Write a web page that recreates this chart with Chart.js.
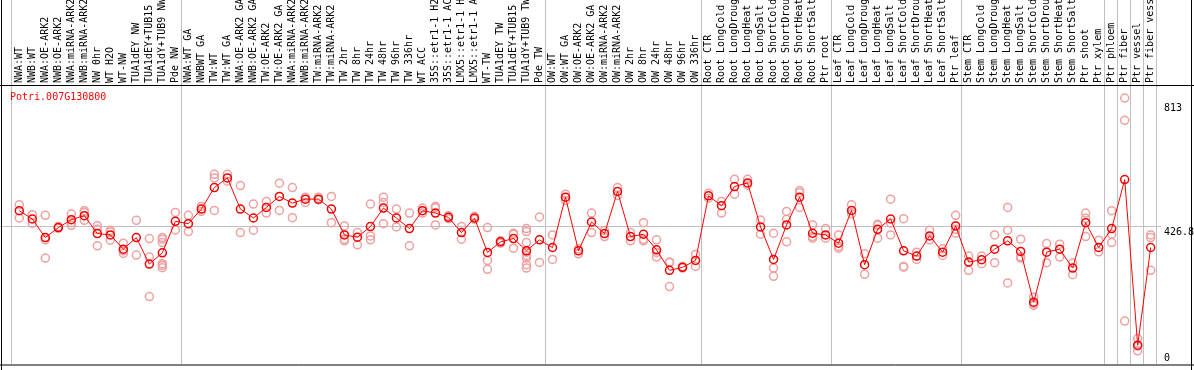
<!DOCTYPE html>
<html>
<head>
<meta charset="utf-8">
<script src="https://cdn.jsdelivr.net/npm/chart.js@4"></script>
<style>
  body { margin: 0; background: #fff; }
  #wrap { width: 1194px; height: 370px; }
</style>
</head>
<body>
<div id="wrap"><canvas id="chart" width="1194" height="370"></canvas></div>
<script>
// gene shown in the plot
const geneId = "Potri.007G130800";

// sample names (x axis, top)
const samples = [
  "NWA:WT", "NWB:WT", "NWA:OE-ARK2", "NWB:OE-ARK2", "NWA:miRNA-ARK2", "NWB:miRNA-ARK2",
  "NW 0hr", "WT H2O", "WT-NW", "TUA1dEY NW", "TUA1dEY+TUB15 NW", "TUA1dY+TUB9 NW", "Pde NW",
  "NWA:WT GA", "NWBWT GA", "TW:WT", "TW:WT GA", "NWA:OE-ARK2 GA", "NWB:OE-ARK2 GA",
  "TW:OE-ARK2", "TW:OE-ARK2 GA", "NWA:miRNA-ARK2", "NWB:miRNA-ARK2", "TW:miRNA-ARK2",
  "TW:miRNA-ARK2", "TW 2hr", "TW 8hr", "TW 24hr", "TW 48hr", "TW 96hr", "TW 336hr",
  "WT ACC", "35S::etr1-1 H2O", "35S::etr1-1 ACC", "LMX5::etr1-1 H2O", "LMX5::etr1-1 ACC",
  "WT-TW", "TUA1dEY TW", "TUA1dEY+TUB15 TW", "TUA1dY+TUB9 TW", "Pde TW",
  "OW:WT", "OW:WT GA", "OW:OE-ARK2", "OW:OE-ARK2 GA", "OW:miRNA-ARK2", "OW:miRNA-ARK2",
  "OW 2hr", "OW 8hr", "OW 24hr", "OW 48hr", "OW 96hr", "OW 336hr",
  "Root CTR", "Root LongCold", "Root LongDrought", "Root LongHeat", "Root LongSalt",
  "Root ShortCold", "Root ShortDrought", "Root ShortHeat", "Root ShortSalt", "Ptr root",
  "Leaf CTR", "Leaf LongCold", "Leaf LongDrought", "Leaf LongHeat", "Leaf LongSalt",
  "Leaf ShortCold", "Leaf ShortDrought", "Leaf ShortHeat", "Leaf ShortSalt", "Ptr leaf",
  "Stem CTR", "Stem LongCold", "Stem LongDrought", "Stem LongHeat", "Stem LongSalt",
  "Stem ShortCold", "Stem ShortDrought", "Stem ShortHeat", "Stem ShortSalt",
  "Ptr shoot", "Ptr xylem", "Ptr phloem", "Ptr fiber", "Ptr vessel", "Ptr fiber vessel"
];

// mean expression per sample
const means = [
  473, 448, 392, 422, 446, 458, 404, 400, 357, 392, 312, 346, 441,
  434, 478, 543, 572, 478, 451, 483, 516, 496, 508, 508, 478, 400, 393, 425, 481, 451, 419,
  473, 466, 453, 407, 451, 347, 379, 389, 352, 385, 362,
  514, 352, 439, 404, 531, 395, 402, 355, 293, 302, 323,
  518, 488, 546, 557, 424, 326, 430, 514, 405, 400,
  375, 474, 310, 417, 448, 352, 336, 397, 348, 427,
  318, 325, 357, 382, 350, 197, 348, 357, 300,
  437, 362, 419, 567, 67, 362
];

// individual replicates per sample
const replicates = [
  [491, 451], [461, 435], [459, 385, 330], [425, 420], [463, 437, 429], [473, 468, 444],
  [428, 417, 367], [414, 409, 384], [375, 352, 344], [444, 339], [389, 333, 214],
  [392, 387, 377, 313, 308, 301], [468, 415],
  [459, 410], [486, 471], [583, 572, 474], [583, 562], [549, 407], [493, 414], [501, 466],
  [556, 474], [543, 452], [514, 498], [514, 506], [516, 437], [427, 387, 382], [407, 370],
  [493, 397, 385], [514, 498, 434], [478, 424], [466, 367], [481, 466], [486, 482, 430],
  [458, 449], [425, 387], [456, 447], [422, 323, 296], [382, 375], [405, 402, 360],
  [419, 410, 377, 348, 338, 330, 310, 300], [454, 317],
  [400, 326], [523, 504], [358, 343], [466, 407], [413, 395], [543, 519], [407, 382],
  [437, 387, 382], [385, 347, 333], [318, 317, 244], [305, 300], [341, 305],
  [526, 511], [501, 466], [568, 523], [568, 551], [445, 402], [405, 300, 275],
  [471, 447, 379], [534, 528, 483], [430, 395, 390], [419, 390],
  [400, 365, 360], [491, 464], [343, 281], [432, 429, 390], [508, 436, 400],
  [449, 305, 303], [348, 326], [414, 385], [358, 338], [459, 417, 405],
  [336, 293], [336, 313], [400, 316], [483, 414, 255], [387, 334, 330], [212, 192, 187],
  [374, 316], [372, 333], [315, 280],
  [466, 450, 395], [384, 349], [473, 402, 377], [813, 746, 140], [87, 64, 50], [400, 392, 293]
];

// right-hand labels: min, overall mean, max
const axisValues = [0, 426.8, 813];
const overallMean = 426.8;

// last sample index of each group (vertical separators)
const groupEnds = [-1, 12, 40, 52, 62, 72, 83, 84, 85, 86, 87];

const meanPoints = means.map((v, i) => ({ x: i, y: v }));
const repPoints = [];
replicates.forEach((vals, i) => vals.forEach((v) => repPoints.push({ x: i, y: v })));

const MONO = "DejaVu Sans Mono";

const decorPlugin = {
  id: "decor",
  beforeDatasetsDraw(chart) {
    const ctx = chart.ctx;
    const xs = chart.scales.xv;
    const ys = chart.scales.y;
    const bottom = chart.chartArea.bottom;
    ctx.save();
    ctx.strokeStyle = "#c0c0c0";
    ctx.lineWidth = 1;
    groupEnds.forEach((g) => {
      const x = Math.round(xs.getPixelForValue(g + 0.4)) + 0.5;
      ctx.beginPath();
      ctx.moveTo(x, 0);
      ctx.lineTo(x, bottom);
      ctx.stroke();
    });
    const ym = Math.round(ys.getPixelForValue(overallMean)) + 0.5;
    ctx.beginPath();
    ctx.moveTo(0, ym);
    ctx.lineTo(1161, ym);
    ctx.stroke();
    ctx.restore();
  },
  afterDraw(chart) {
    const ctx = chart.ctx;
    const area = chart.chartArea;
    const ys = chart.scales.y;
    ctx.save();
    // frame
    ctx.strokeStyle = "#000";
    ctx.lineWidth = 1;
    ctx.beginPath();
    ctx.moveTo(0, area.top + 0.5);
    ctx.lineTo(1194, area.top + 0.5);
    ctx.moveTo(0, area.bottom + 0.5);
    ctx.lineTo(1194, area.bottom + 0.5);
    ctx.moveTo(1.5, 0);
    ctx.lineTo(1.5, 370);
    ctx.moveTo(1191.5, 0);
    ctx.lineTo(1191.5, 370);
    ctx.stroke();
    // gene name
    ctx.font = "10px '" + MONO + "'";
    ctx.textBaseline = "middle";
    ctx.textAlign = "left";
    ctx.fillStyle = "#ff0000";
    ctx.fillText(geneId, 10, area.top + 12);
    // value labels on the right
    ctx.fillStyle = "#000";
    axisValues.forEach((v) => {
      let y = ys.getPixelForValue(v) + 6;
      y = Math.min(Math.max(y, area.top + 23), area.bottom - 6);
      ctx.fillText(String(v), 1164, y);
    });
    ctx.restore();
  }
};

new Chart(document.getElementById("chart"), {
  type: "line",
  data: {
    datasets: [
      {
        label: "mean",
        xAxisID: "xv",
        data: meanPoints,
        borderColor: "#ff0000",
        borderWidth: 1,
        tension: 0,
        pointRadius: 4,
        pointBorderWidth: 1.5,
        pointBorderColor: "#ee0000",
        pointBackgroundColor: "rgba(0,0,0,0)"
      },
      {
        type: "scatter",
        label: "replicates",
        xAxisID: "xv",
        data: repPoints,
        showLine: false,
        pointRadius: 4,
        pointBorderWidth: 1.5,
        pointBorderColor: "#f0a0a0",
        pointBackgroundColor: "rgba(0,0,0,0)"
      }
    ]
  },
  options: {
    responsive: false,
    animation: false,
    layout: { padding: { left: 12.8, right: 36.8, top: 0, bottom: 1 } },
    plugins: {
      legend: { display: false },
      tooltip: { enabled: false }
    },
    scales: {
      x: {
        type: "category",
        labels: samples,
        position: "top",
        offset: true,
        grid: { display: false, drawTicks: false },
        border: { display: false },
        ticks: {
          autoSkip: false,
          minRotation: 90,
          maxRotation: 90,
          padding: 2,
          labelOffset: 12,
          color: "#000",
          font: { family: MONO, size: 10 }
        },
        afterFit: (scale) => { scale.height = 85; }
      },
      xv: { type: "linear", min: -0.5, max: 87.5, display: false },
      y: { type: "linear", min: 8.8, max: 852.5, display: false }
    }
  },
  plugins: [decorPlugin]
});
</script>
</body>
</html>
